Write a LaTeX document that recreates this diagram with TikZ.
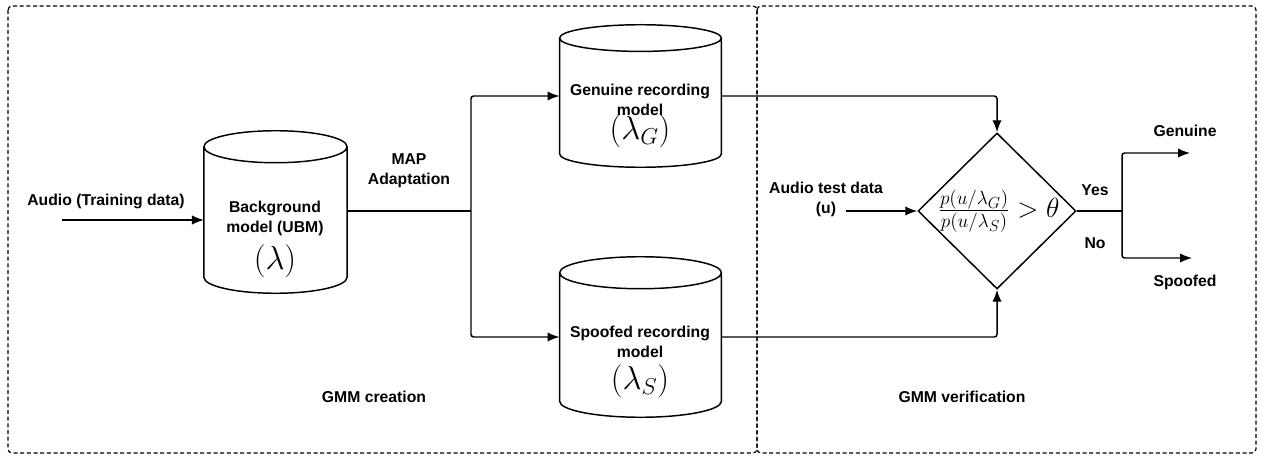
\documentclass[tikz,border=0pt]{standalone}
\usepackage{amsmath,amssymb}
\usepackage{fontspec}
\setmainfont{Liberation Sans}
\usetikzlibrary{arrows.meta, shapes.geometric, positioning, calc}
\tikzset{
  dbnode/.style={rectangle, inner sep=0pt, minimum width=121pt},
  dbline/.style={draw=black, line width=1.1pt},
  decnode/.style={
    diamond, draw=black, line width=1.1pt, inner sep=0pt,
    minimum width=118.5pt, minimum height=117pt
  },
  lbl/.style={align=center, inner sep=0pt, font=\fontsize{11.8}{15}\selectfont\bfseries},
  bigmath/.style={inner sep=0pt, font=\fontsize{27}{29}\selectfont},
  edge/.style={-{Latex[length=9pt, width=7pt]}, line width=1.1pt, rounded corners=2pt},
  wire/.style={line width=1.1pt, rounded corners=2pt},
  frame/.style={draw=black, line width=0.9pt, dash pattern=on 3pt off 2pt, rounded corners=3pt}
}
% outline of a drum round a named node: #1 node, #2 half height of its ends
\newcommand{\drumdraw}[2]{%
  \draw[dbline] let \p1=(#1.north west), \p2=(#1.south east), \n1={0.5*(\x2-\x1)} in
    (\x1,\y1-#2) -- (\x1,\y2+#2)
    arc[start angle=180, end angle=360, x radius=\n1, y radius=#2]
    -- (\x2,\y1-#2)
    arc[start angle=0, end angle=180, x radius=\n1, y radius=#2]
    arc[start angle=180, end angle=360, x radius=\n1, y radius=#2];
}

\begin{document}
\begin{tikzpicture}[x=0.75pt, y=-0.75pt]
    \useasboundingbox (0,0) rectangle (1262,456);
    % the two stages
    \draw[frame] (8,6) rectangle (757,453);
    \draw[frame] (757,6) rectangle (1256,453);
    \node[lbl] (creation) at (374,397) {GMM creation};
    \node[lbl] (verification) at (962,397) {GMM verification};

    % models
    \node[dbnode, minimum width=107pt, minimum height=121.5pt] (ubm) at (275.5,212) {};
    \node[dbnode, minimum height=106.5pt] (gen) at (640.5,96) {};
    \node[dbnode, minimum height=120pt] (spf) at (640.5,337) {};
    \drumdraw{ubm}{12pt}
    \drumdraw{gen}{10pt}
    \drumdraw{spf}{12pt}
    \node[lbl] (ubmtxt) at (275,218) {Background\\model (UBM)};
    \node[bigmath, font=\fontsize{33}{35}\selectfont] (ubmsym) at (275,261) {$(\lambda)$};
    \node[lbl] (gentxt) at (640,100) {Genuine recording\\model};
    \node[bigmath] (gensym) at (640,131) {$(\lambda_G)$};
    \node[lbl] (spftxt) at (640,342) {Spoofed recording\\model};
    \node[bigmath] (spfsym) at (640,381) {$(\lambda_S)$};

    % decision
    \node[decnode] (dec) at (997,211) {};
    \node[inner sep=0pt, font=\huge] (ratio) at (999,211) {$\tfrac{p(u/\lambda_G)}{p(u/\lambda_S)} > \theta$};

    % inputs and labels
    \node[lbl] (trainlbl) at (106,201) {Audio (Training data)};
    \node[lbl] (maplbl) at (409,171) {MAP\\Adaptation};
    \node[lbl] (testlbl) at (826,199) {Audio test data\\(u)};
    \node[lbl] (yeslbl) at (1095,190) {Yes};
    \node[lbl] (nolbl) at (1095,243) {No};
    \node[lbl] (genlbl) at (1185,131) {Genuine};
    \node[lbl] (spflbl) at (1185,282) {Spoofed};

    \coordinate (trainin) at (62,220);
    \coordinate (split) at (471,211);
    \coordinate (testin) at (846,211);
    \coordinate (split2) at (1122,211);
    \coordinate (outG) at (1190,153);
    \coordinate (outS) at (1192,258);

    % connectors
    \draw[edge] (trainin) -- (trainin -| ubm.west);
    \draw[wire] (ubm.east |- split) -- (split);
    \draw[edge] (split) |- (gen.west);
    \draw[edge] (split) |- (spf.west);
    \draw[edge] (gen.east) -| (dec.north);
    \draw[edge] (spf.east) -| (dec.south);
    \draw[edge] (testin) -- (dec.west);
    \draw[wire] (dec.east) -- (split2);
    \draw[edge] (split2) |- (outG);
    \draw[edge] (split2) |- (outS);
\end{tikzpicture}
\end{document}
